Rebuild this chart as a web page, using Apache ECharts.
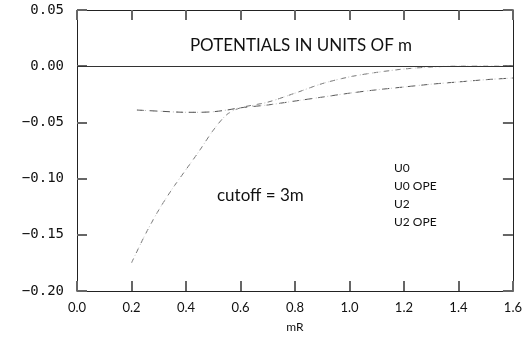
<!DOCTYPE html>
<html>
<head>
<meta charset="utf-8">
<script src="https://cdn.jsdelivr.net/npm/echarts@6/dist/echarts.min.js"></script>
<style>html,body{margin:0;padding:0;background:#fff;}#c{width:525px;height:338px;}</style>
</head>
<body>
<div id="c"></div>
<script>
// ---- data ----
const xTicks = [0.0, 0.2, 0.4, 0.6, 0.8, 1.0, 1.2, 1.4, 1.6];
const yTicks = [0.05, 0.00, -0.05, -0.10, -0.15, -0.20];
const seriesNames = ['U0', 'U0 OPE', 'U2', 'U2 OPE'];
const titleText = 'POTENTIALS IN UNITS OF m';
const noteText = 'cutoff = 3m';
const xName = 'mR';

// steep short-range branch
const steepX = [0.20, 0.25, 0.30, 0.35, 0.40, 0.45, 0.50, 0.55];
const steepY = [-0.175, -0.150, -0.128, -0.109, -0.092, -0.075, -0.057, -0.043];
// flat branch
const flatX = [0.22, 0.30, 0.40, 0.45, 0.50, 0.55];
const flatY = [-0.039, -0.040, -0.041, -0.041, -0.0405, -0.039];
// upper (fast-vanishing) long-range branch
const upperX = [0.60, 0.70, 0.80, 0.90, 1.00, 1.10, 1.20, 1.30, 1.40, 1.50, 1.60];
const upperY = [-0.037, -0.032, -0.024, -0.0155, -0.0095, -0.0055, -0.0025, -0.0007, 0.0, 0.0, 0.0];
// lower (OPE tail) long-range branch
const lowerX = [0.60, 0.70, 0.80, 0.90, 1.00, 1.10, 1.20, 1.30, 1.40, 1.50, 1.60];
const lowerY = [-0.037, -0.0345, -0.031, -0.0275, -0.024, -0.021, -0.0185, -0.016, -0.014, -0.012, -0.0105];

function pairs(xs, ys) { return xs.map((x, i) => [x, ys[i]]); }
const u0 = pairs(steepX, steepY).concat(pairs(upperX, upperY));
const u0ope = pairs(flatX, flatY).concat(pairs(upperX, upperY));
const u2 = pairs(flatX, flatY).concat(pairs(lowerX, lowerY));
const u2ope = pairs(steepX, steepY).concat(pairs(lowerX, lowerY));

const chart = echarts.init(document.getElementById('c'), null, {renderer: 'canvas'});
const geo = 'Lato';
function tick() { return {show: true, inside: true, length: 10, lineStyle: {color: '#666', width: 2}}; }
function line() { return {show: true, onZero: false, lineStyle: {color: '#222', width: 1}}; }
function lineSeries(name, data, color, type, width) {
  return {name, type: 'line', data, smooth: 0.3, symbol: 'none',
    lineStyle: {color, type, width}, itemStyle: {color}, z: 3};
}
chart.setOption({
  animation: false,
  backgroundColor: '#fff',
  grid: {left: 77, right: 9, top: 10, bottom: 44, show: false},
  title: {text: titleText, left: 296, top: 32, textAlign: 'center',
    textStyle: {fontFamily: geo, fontWeight: 'normal', fontSize: 17, color: '#111'}},
  legend: {data: seriesNames, orient: 'vertical', left: 384, top: 157, icon: 'none',
    itemWidth: 0, itemHeight: 12, itemGap: 6,
    textStyle: {fontFamily: geo, fontSize: 12, color: '#111'}},
  graphic: [{type: 'text', left: 217, top: 187,
    style: {text: noteText, font: '17px Lato', fill: '#111'}}],
  xAxis: [{type: 'value', min: 0, max: 1.6, interval: 0.2, position: 'bottom',
    name: xName, nameLocation: 'middle', nameGap: 30,
    nameTextStyle: {fontFamily: geo, fontSize: 12, color: '#111'},
    axisLine: line(), splitLine: {show: false},
    axisTick: tick(),
    axisLabel: {fontFamily: geo, fontSize: 13, color: '#111', margin: 10,
      formatter: v => (Math.round(v * 10) / 10).toFixed(1)}},
   {type: 'value', min: 0, max: 1.6, interval: 0.2, position: 'top',
    axisLine: line(), splitLine: {show: false}, axisLabel: {show: false},
    axisTick: tick()}],
  yAxis: [{type: 'value', min: -0.2, max: 0.05, interval: 0.05, position: 'left',
    axisLine: line(), splitLine: {show: false},
    axisTick: tick(),
    axisLabel: {fontFamily: 'DejaVu Sans Mono', fontSize: 14, color: '#111', margin: 13,
      formatter: v => { const s = (Math.round(v * 100) / 100).toFixed(2); return s.replace('-', '\u2212'); }}},
   {type: 'value', min: -0.2, max: 0.05, interval: 0.05, position: 'right',
    axisLine: line(), splitLine: {show: false}, axisLabel: {show: false},
    axisTick: tick()}],
  series: [
    Object.assign(lineSeries(seriesNames[0], u0, '#777', [5, 6], 1), {
      markLine: {silent: true, symbol: 'none', label: {show: false},
        lineStyle: {color: '#333', type: 'solid', width: 1.2}, data: [{yAxis: 0}]}}),
    lineSeries(seriesNames[1], u0ope, '#bbb', [1, 3], 1),
    lineSeries(seriesNames[2], u2, '#555', [7, 6], 1),
    lineSeries(seriesNames[3], u2ope, '#c4c4c4', [1, 3], 1)
  ]
});
</script>
</body>
</html>
